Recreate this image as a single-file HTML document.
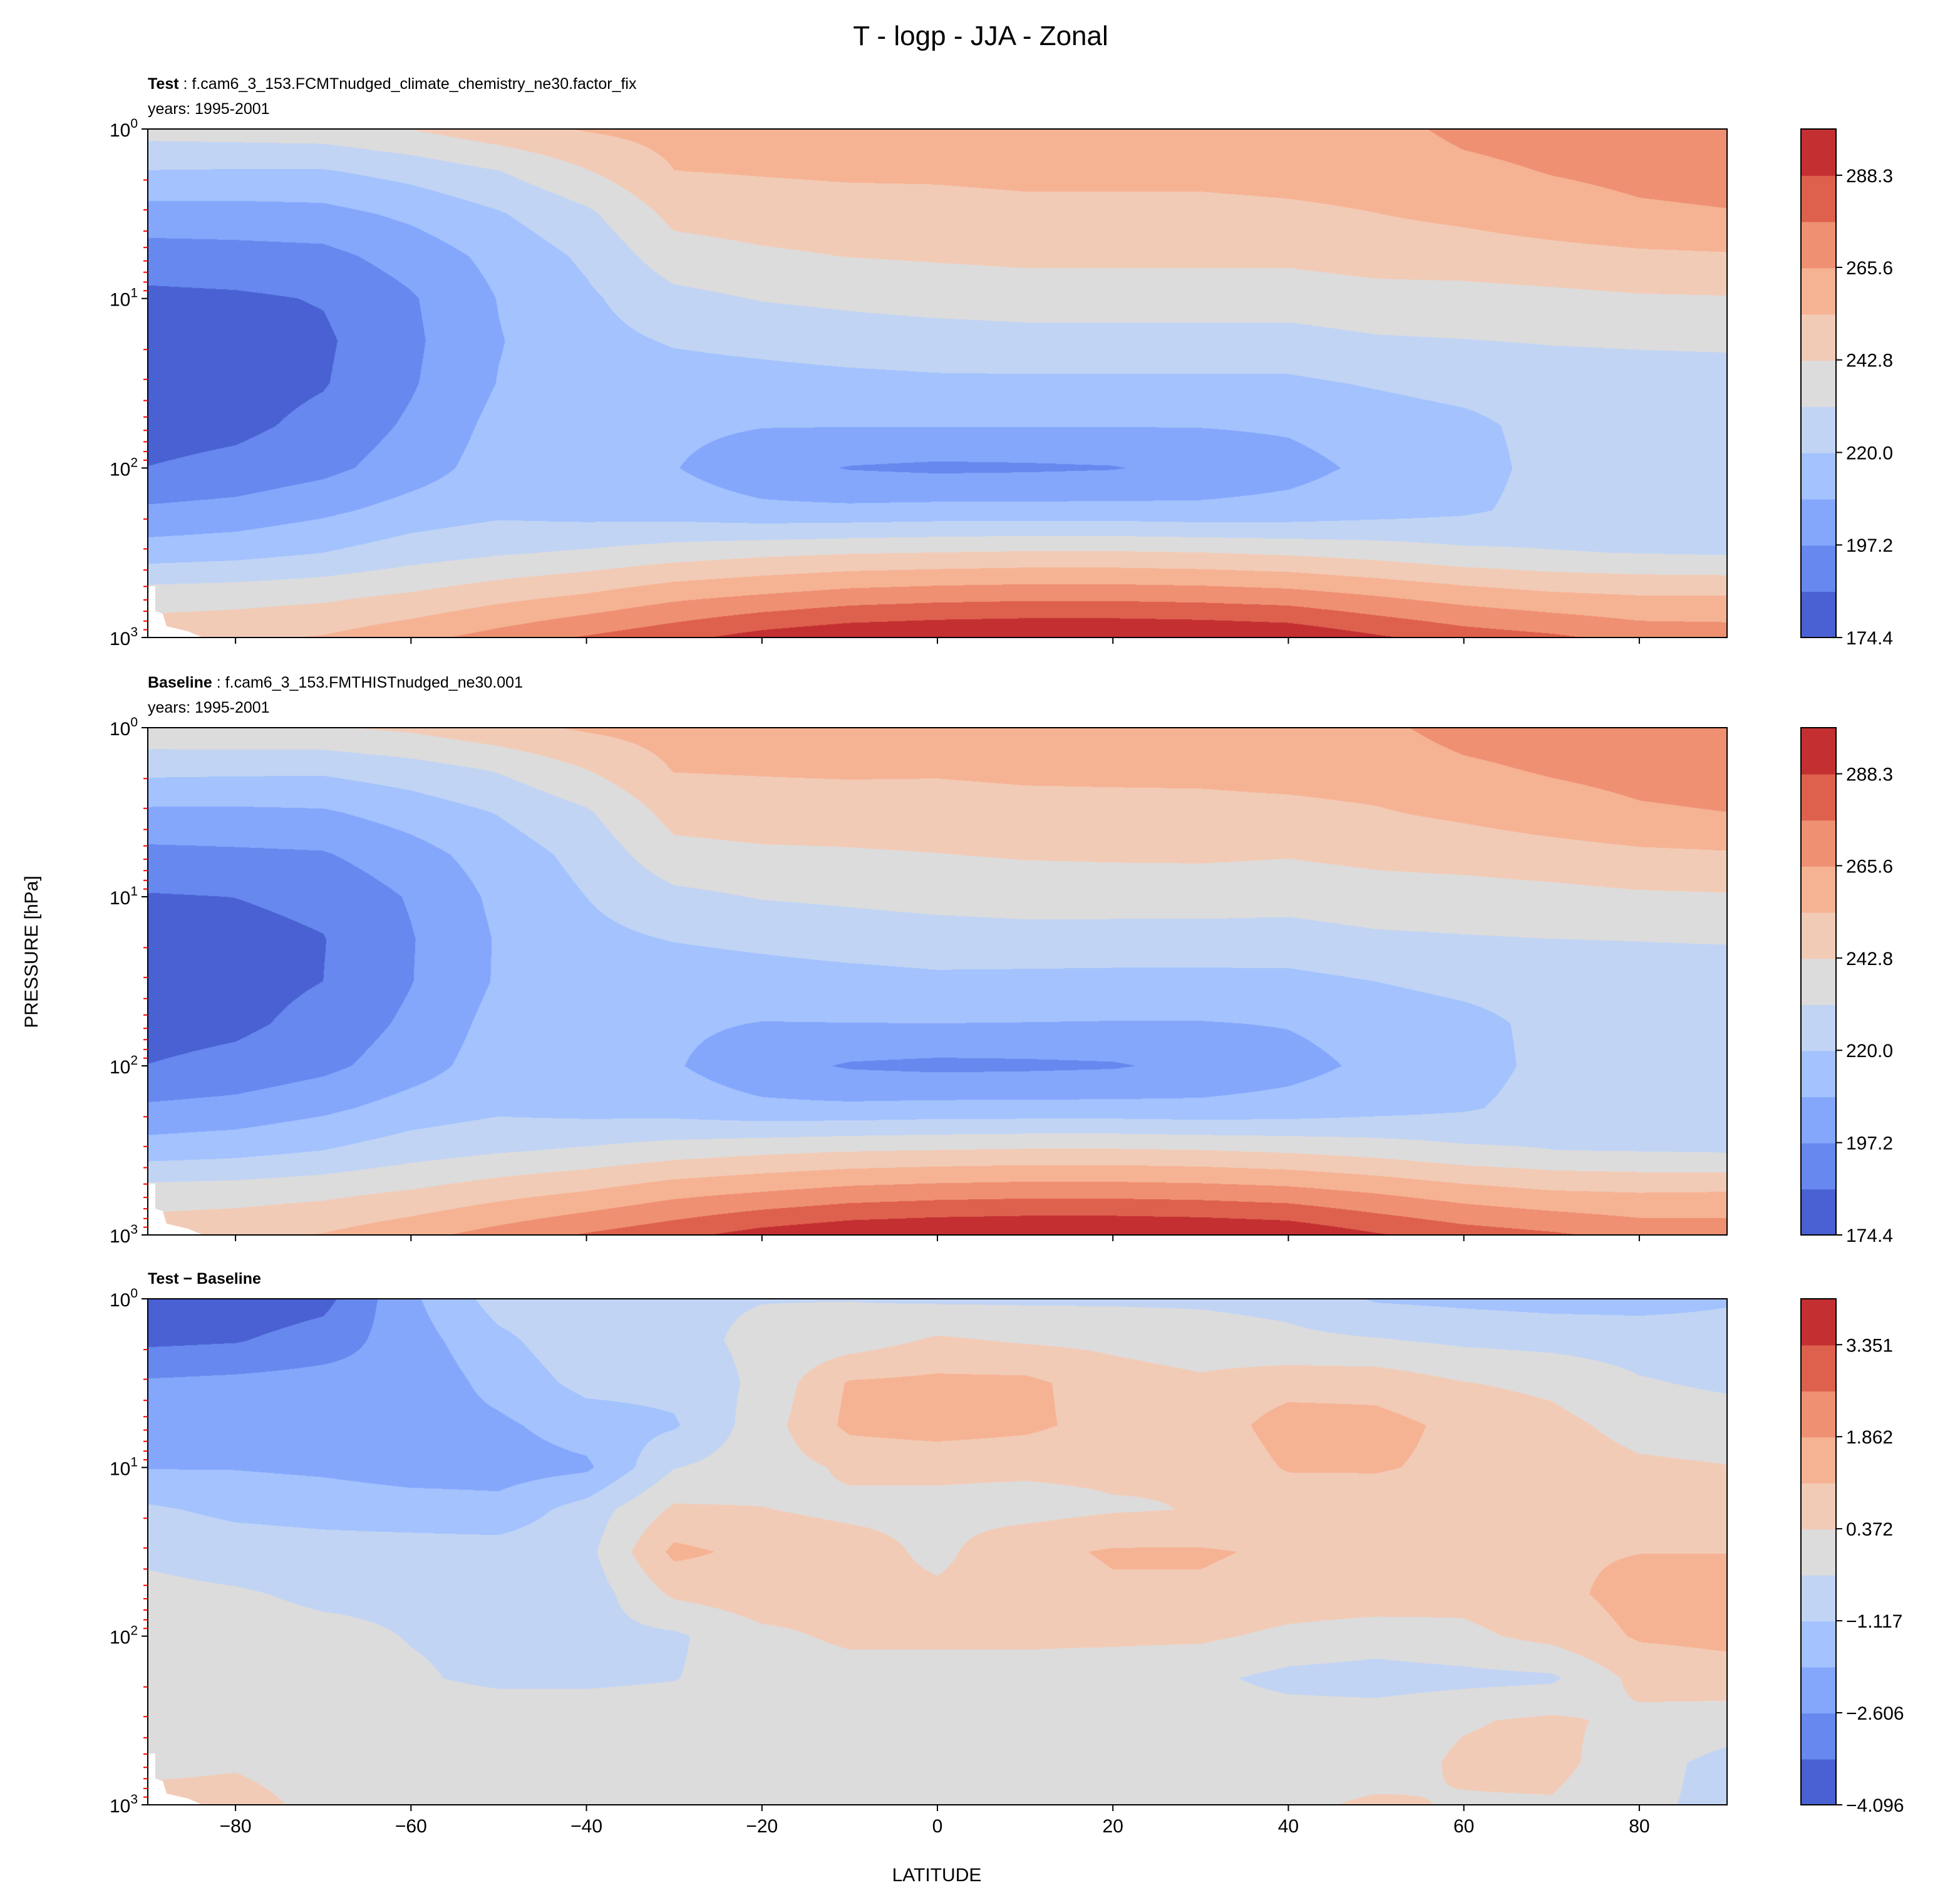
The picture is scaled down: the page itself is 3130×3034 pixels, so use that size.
<!DOCTYPE html>
<html><head><meta charset="utf-8">
<style>
html,body{margin:0;padding:0;background:#fff;}
#wrap{position:relative;width:3130px;height:3034px;overflow:hidden;}
canvas{position:absolute;}
svg{position:absolute;left:0;top:0;}
text{font-family:"Liberation Sans",sans-serif;fill:#000;}
</style></head>
<body>
<div id="wrap">
<canvas id="c0"></canvas>
<canvas id="c1"></canvas>
<canvas id="c2"></canvas>
<svg id="svg" width="3130" height="3034" viewBox="0 0 1565 1517">
<text x="783" y="36" font-size="22" text-anchor="middle">T - logp - JJA - Zonal</text>
<text x="118" y="71" font-size="12.5"><tspan font-weight="bold">Test</tspan> : f.cam6_3_153.FCMTnudged_climate_chemistry_ne30.factor_fix</text>
<text x="118" y="91" font-size="12.5">years: 1995-2001</text>
<text x="118" y="549" font-size="12.5"><tspan font-weight="bold">Baseline</tspan> : f.cam6_3_153.FMTHISTnudged_ne30.001</text>
<text x="118" y="569" font-size="12.5">years: 1995-2001</text>
<text x="118" y="1025" font-size="12.5" font-weight="bold">Test − Baseline</text>
<text x="30" y="760" font-size="15" text-anchor="middle" transform="rotate(-90 30 760)">PRESSURE [hPa]</text>
<text x="748" y="1502" font-size="15" text-anchor="middle">LATITUDE</text>
<g id="layer"></g>
</svg>
</div>
<script>
// ---- data ----
const latitudes=[-90,-80,-70,-60,-50,-40,-30,-20,-10,0,10,20,30,40,50,60,70,80,90];
const logPressure=[0,0.25,0.5,0.75,1,1.25,1.5,1.75,2,2.25,2.5,2.75,3];
// Test temperature (K), one array per latitude, levels top (1 hPa) to bottom (1000 hPa)
const testTempByLat=[
[236,219.5,204,192,183,180,179,181,186,199,214,237,250],
[237,219,204,193,184,181,181,183,189,201,216,238,252],
[238,219,205,194,186.5,184,185,189,194,206,220,240,255],
[243,224,211,202,196,195,196,199,203,213,226,244,262],
[250,231,219,212,209,208,209,212,214,217,230,250,270],
[255,242,229,222,218,216,214,212,211,215,233,255,278],
[258,254,246,238,228,221,215,211,209,214,237,262,285],
[258,255,248,241,232,223,216,209,202,211,240,266,293],
[259,256,249,243,234,225,217,209,196.5,211,242,270,298],
[259,256,250,244,236,226,218,209,195,212,243,272,300],
[260,257,251,245,237,227,218,209,195.5,212,244,273,301],
[260,257,251,245,237,227,218,209,196.5,212,244,273,301],
[261,257,251,245,237,227,218,209,201,211,243,272,300],
[262,258,252,245,237,227,218,210,205,212,241,270,298],
[262,259,254,247,239,230,221,214,211,215,238,265,290],
[268,263,257,248,239,231,224,217,215,218,234,260,283],
[270,266,261,250,240,232,226,224,224,224,232,256,279],
[271,268,264,252,241.5,232.5,227,225,224,224,231,254,273],
[272,269,265,253,242,233,227,225,224,224,230,254,272]
];
// Test - Baseline (K), one array per pressure level, latitudes -90..90
const diffByLevel=[
[-4.0,-3.9,-3.6,-2.0,-0.8,-0.6,-0.5,-0.4,-0.4,-0.5,-0.5,-0.5,-0.5,-0.6,-1.2,-1.3,-1.4,-1.4,-1.2],
[-3.5,-3.4,-3.0,-2.2,-1.3,-0.6,-0.6,-0.2,0.0,0.5,0.3,0.2,0.0,-0.2,-0.3,-0.5,-0.6,-0.7,-0.8],
[-2.5,-2.4,-2.3,-2.4,-1.6,-0.9,-0.9,-0.2,1.2,1.3,1.3,0.7,0.5,0.8,0.8,0.4,0.2,-0.3,-0.5],
[-2.2,-2.2,-2.2,-2.2,-2.0,-1.5,-1.2,0.0,1.3,1.5,1.3,0.8,0.6,1.5,1.4,0.9,0.6,0.1,0.0],
[-1.9,-1.9,-2.0,-2.2,-2.2,-2.0,-0.4,0.0,0.5,0.5,0.5,0.5,0.4,1.2,1.2,0.9,0.8,0.5,0.4],
[-1.0,-1.3,-1.4,-1.5,-1.6,-0.8,0.5,0.4,0.2,0.2,0.1,0.3,0.4,0.5,0.6,0.5,0.7,0.8,0.8],
[-0.5,-0.7,-0.8,-0.8,-0.8,-0.6,1.3,0.9,0.7,0.2,0.9,1.2,1.2,1.0,1.0,0.8,1.0,1.1,1.1],
[-0.2,-0.3,-0.5,-0.5,-0.6,-0.8,0.5,0.8,0.6,0.5,0.7,1.0,1.0,0.8,0.8,0.6,0.9,1.4,1.5],
[0.0,-0.1,-0.2,-0.4,-0.5,-0.6,-0.5,0.2,0.5,0.5,0.5,0.5,0.5,0.2,0.0,0.2,0.6,1.2,1.3],
[0.0,0.0,0.0,-0.3,-0.5,-0.5,-0.4,0.0,0.1,0.1,0.1,0.0,-0.2,-0.6,-0.7,-0.6,-0.5,0.6,0.8],
[0.0,0.0,0.0,0.0,0.0,0.0,0.0,0.0,0.0,0.0,0.0,0.0,0.0,0.0,0.0,0.3,0.5,0.2,0.0],
[0.2,0.3,0.1,0.0,0.0,0.0,0.0,0.0,0.0,0.0,0.0,0.0,0.0,0.1,0.0,0.5,0.6,-0.1,-0.6],
[0.6,0.6,0.2,0.0,0.0,0.0,0.0,0.0,0.0,0.0,0.0,0.0,0.0,0.2,0.5,0.3,0.3,-0.2,-0.6]
];
const tempTicks=[174.4,197.2,220.0,242.8,265.6,288.3];
const tempTickLabels=["174.4","197.2","220.0","242.8","265.6","288.3"];
const diffTicks=[-4.096,-2.606,-1.117,0.372,1.862,3.351];
const diffTickLabels=["−4.096","−2.606","−1.117","0.372","1.862","3.351"];
const latTicks=[-80,-60,-40,-20,0,20,40,60,80];
const latTickLabels=["−80","−60","−40","−20","0","20","40","60","80"];

// ---- styling / layout ----
const COLORS=["#4961d2","#6788ee","#84a7fc","#a3c2fe","#c1d4f4","#dddcdc","#f2cbb7","#f6b394","#ef9072","#de614d","#c43032"];
const NB=11;
const tempLevels={vmin:174.4,step:11.39};
const diffLevels={vmin:-4.096,step:0.7445};
const AX={left:118,width:1261};
const panels=[
 {top:103,h:406,canvas:'c0',name:'test',lev:tempLevels,ticks:tempTicks,labels:tempTickLabels},
 {top:581,h:405,canvas:'c1',name:'baseline',lev:tempLevels,ticks:tempTicks,labels:tempTickLabels},
 {top:1037,h:404,canvas:'c2',name:'difference',lev:diffLevels,ticks:diffTicks,labels:diffTickLabels}
];
const NS='http://www.w3.org/2000/svg';
const layer=document.getElementById('layer');
function mk(tag,attrs,parent){const e=document.createElementNS(NS,tag);for(const k in attrs)e.setAttribute(k,attrs[k]);(parent||layer).appendChild(e);return e;}

const nLat=latitudes.length,nLev=logPressure.length;
const gridTest=[],gridDiff=[],gridBase=[];
for(let i=0;i<nLat;i++){gridTest.push([]);gridDiff.push([]);gridBase.push([]);
 for(let j=0;j<nLev;j++){const t=testTempByLat[i][j],d=diffByLevel[j][i];
  gridTest[i].push(t);gridDiff[i].push(d);gridBase[i].push(t-d);}}
const grids=[gridTest,gridBase,gridDiff];

const latMin=latitudes[0],latMax=latitudes[nLat-1],LMin=logPressure[0],LMax=logPressure[nLev-1];
function xScale(lat){return AX.left+(lat-latMin)/(latMax-latMin)*AX.width;}
function yScale(L,p){return p.top+(L-LMin)/(LMax-LMin)*p.h;}
function sample(g,lat,L){
 let fi=(lat-latMin)/(latitudes[1]-latitudes[0]);let fj=(L-LMin)/(logPressure[1]-logPressure[0]);
 let i0=Math.max(0,Math.min(nLat-2,Math.floor(fi))),j0=Math.max(0,Math.min(nLev-2,Math.floor(fj)));
 let tx=fi-i0,ty=fj-j0;
 return g[i0][j0]*(1-tx)*(1-ty)+g[i0+1][j0]*tx*(1-ty)+g[i0][j0+1]*(1-tx)*ty+g[i0+1][j0+1]*tx*ty;}
const rgb=COLORS.map(c=>[parseInt(c.slice(1,3),16),parseInt(c.slice(3,5),16),parseInt(c.slice(5,7),16)]);

panels.forEach((p,k)=>{
 const cv=document.getElementById(p.canvas);
 const W=AX.width*2,H=p.h*2;
 cv.width=W;cv.height=H;cv.style.left=(AX.left*2)+'px';cv.style.top=(p.top*2)+'px';
 const ctx=cv.getContext('2d');const img=ctx.createImageData(W,H);const d=img.data;const g=grids[k];
 for(let y=0;y<H;y++){const L=LMin+(y+0.5)/H*(LMax-LMin);
  for(let x=0;x<W;x++){const lat=latMin+(x+0.5)/W*(latMax-latMin);
   const v=sample(g,lat,L);let b=Math.floor((v-p.lev.vmin)/p.lev.step);if(b<0)b=0;if(b>NB-1)b=NB-1;
   const o=(y*W+x)*4;d[o]=rgb[b][0];d[o+1]=rgb[b][1];d[o+2]=rgb[b][2];d[o+3]=255;}}
 ctx.putImageData(img,0,0);

 const bot=p.top+p.h;
 const m=mk('polygon',{points:`118,${bot-41} 124,${bot-41} 124,${bot-21} 130,${bot-19} 133,${bot-9} 150,${bot-5} 162,${bot} 118,${bot}`,fill:'#fff'});
 
 

 const fr=mk('rect',{x:AX.left,y:p.top,width:AX.width,height:p.h,fill:'none',stroke:'#000','stroke-width':1});
 
 

 latTicks.forEach((lt,ii)=>{const x=xScale(lt);
  const t=mk('line',{x1:x,x2:x,y1:bot,y2:bot+5,stroke:'#000','stroke-width':1});
  
  
  if(k===2){const tx=mk('text',{x:x,y:bot+22,'font-size':15,'text-anchor':'middle'});tx.textContent=latTickLabels[ii];
   
   }
 });
 for(let dec=0;dec<=3;dec++){const y=yScale(dec,p);
  const t=mk('line',{x1:AX.left-5,x2:AX.left,y1:y,y2:y,stroke:'#000','stroke-width':1});
  
  
  const tx=mk('text',{x:AX.left-8,y:y+6,'font-size':15,'text-anchor':'end'});
  
  
  const a=document.createElementNS(NS,'tspan');a.textContent='10';tx.appendChild(a);
  const s=document.createElementNS(NS,'tspan');s.setAttribute('dy','-7');s.setAttribute('font-size','10.5');s.textContent=String(dec);tx.appendChild(s);
  if(dec<3){for(let mm=2;mm<=9;mm++){const ym=yScale(dec+Math.log10(mm),p);
   const mt=mk('line',{x1:AX.left-3.5,x2:AX.left,y1:ym,y2:ym,stroke:'#ff0000','stroke-width':1});
   
   }}
 }
 const cbx=1438,cbw=28,cbh=p.h;
 for(let b=0;b<NB;b++){const y1=bot-(b+1)*cbh/NB;
  const r=mk('rect',{x:cbx,y:y1,width:cbw,height:cbh/NB+0.5,fill:COLORS[b]});
  
  }
 const cf=mk('rect',{x:cbx,y:p.top,width:cbw,height:cbh,fill:'none',stroke:'#000','stroke-width':1});
 
 
 const vmax=p.lev.vmin+NB*p.lev.step;
 p.ticks.forEach((tv,ii)=>{const y=bot-(tv-p.lev.vmin)/(vmax-p.lev.vmin)*cbh;
  const t=mk('line',{x1:cbx+cbw,x2:cbx+cbw+5,y1:y,y2:y,stroke:'#000','stroke-width':1});
  
  
  const tx=mk('text',{x:cbx+cbw+8,y:y+5.5,'font-size':15});tx.textContent=p.labels[ii];
  
  
 });
});
</script>
</body></html>
